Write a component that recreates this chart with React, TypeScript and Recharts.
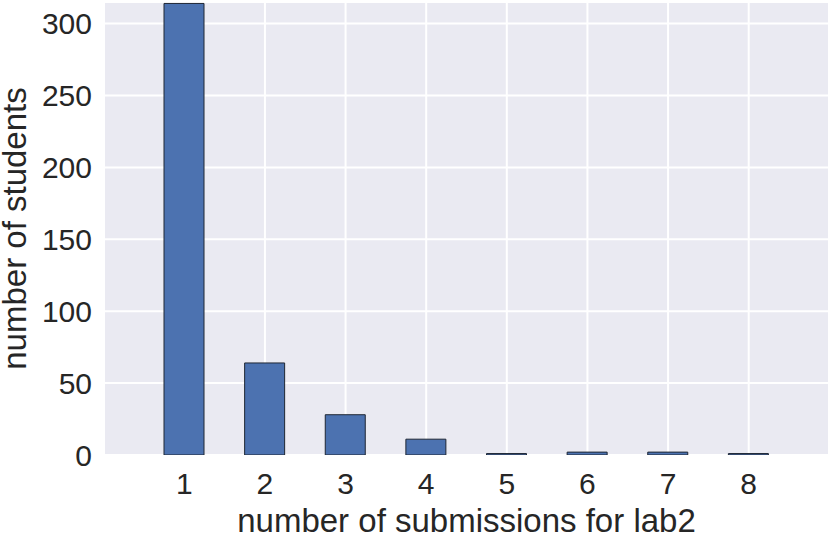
import React from 'react';
import { BarChart, Bar, XAxis, YAxis, CartesianGrid, Label } from 'recharts';

const submissions = ['1', '2', '3', '4', '5', '6', '7', '8'];
const studentCounts = [314, 64, 28, 11, 1, 2, 2, 1];
const yTicks = [0, 50, 100, 150, 200, 250, 300];

const data = submissions.map((n, i) => ({ n, students: studentCounts[i] }));

const FONT = '"Liberation Sans", Arial, sans-serif';

// axis titles drawn as plain svg text so they can sit right at the edges
const YTitle = (props: any) => {
    const vb = props.viewBox;
    const cx = 25.5;
    const cy = vb.y + vb.height / 2;
    return (
        <text x={cx} y={cy} transform={`rotate(-90 ${cx} ${cy})`} textAnchor="middle"
            fontFamily={FONT} fontSize={33} fill="#262626">
            number of students
        </text>
    );
};

const XTitle = (props: any) => {
    const vb = props.viewBox;
    return (
        <text x={vb.x + vb.width / 2} y={532} textAnchor="middle"
            fontFamily={FONT} fontSize={33} fill="#262626">
            number of submissions for lab2
        </text>
    );
};

export default function App() {
    return (
        <div style={{ position: 'absolute', left: 0, top: 0, background: '#fff' }}>
            <BarChart width={830} height={534} data={data}
                margin={{ top: 2, right: 1, bottom: 0, left: 0 }}>
                <CartesianGrid fill="#EAEAF2" stroke="#ffffff" strokeWidth={2} />
                <XAxis dataKey="n" height={79} padding={{ left: 40, right: 40 }}
                    axisLine={false} tickLine={false} tickSize={0} tickMargin={18}
                    tick={{ fontFamily: FONT, fontSize: 30, fill: '#262626' }}>
                    <Label content={XTitle} />
                </XAxis>
                <YAxis width={104} domain={[0, 315]} ticks={yTicks} allowDataOverflow
                    axisLine={false} tickLine={false} tickSize={0} tickMargin={12}
                    tick={{ fontFamily: FONT, fontSize: 30, fill: '#262626' }}>
                    <Label content={YTitle} />
                </YAxis>
                <Bar dataKey="students" fill="#4C72B0" stroke="#1e2633" strokeWidth={1}
                    barSize={40} isAnimationActive={false} />
            </BarChart>
        </div>
    );
}
